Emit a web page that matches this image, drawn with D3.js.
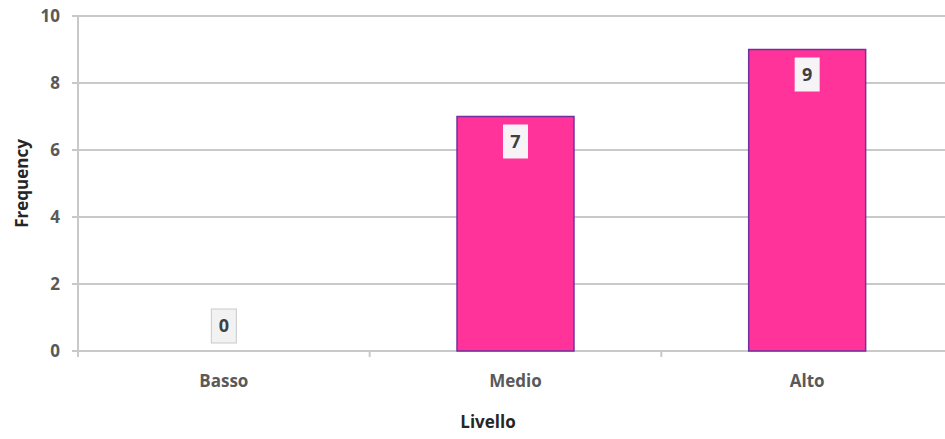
<!DOCTYPE html>
<html>
<head>
<meta charset="utf-8">
<script src="https://cdn.jsdelivr.net/npm/d3@7"></script>
<style>
  body { margin: 0; background: #fff; overflow: hidden; }
  svg { display: block; }
</style>
</head>
<body>
<svg id="chart" width="945" height="439"></svg>
<script>
// Frequency of each level
const categories = ["Basso", "Medio", "Alto"];
const frequencies = [0, 7, 9];
const yTicks = [0, 2, 4, 6, 8, 10];
const xTitle = "Livello";
const yTitle = "Frequency";

const width = 945, height = 439;
// the plot area runs slightly past the right edge of the view
const plotLeft = 78, plotRight = 953;
const plotTop = 16, plotBottom = 351;

const svg = d3.select("#chart");

const x = d3.scaleBand()
  .domain(categories)
  .range([plotLeft, plotRight])
  .paddingInner(0.599)
  .paddingOuter(0.2995);

const y = d3.scaleLinear()
  .domain([0, 10])
  .range([plotBottom, plotTop]);

const gridColor = "#c9c9c9";

// horizontal gridlines
svg.append("g")
  .selectAll("line")
  .data(yTicks)
  .join("line")
  .attr("x1", plotLeft - 6)
  .attr("x2", plotRight)
  .attr("y1", d => y(d))
  .attr("y2", d => y(d))
  .attr("stroke", gridColor)
  .attr("stroke-width", 2);

// vertical axis line
svg.append("line")
  .attr("x1", plotLeft).attr("x2", plotLeft)
  .attr("y1", y(10)).attr("y2", y(0) + 6)
  .attr("stroke", gridColor).attr("stroke-width", 2);

// category separators on the x axis
const sep = categories.slice(1).map(c => x(c) - x.step() * x.paddingInner() / 2);
svg.append("g")
  .selectAll("line")
  .data(sep)
  .join("line")
  .attr("x1", d => d).attr("x2", d => d)
  .attr("y1", y(0)).attr("y2", y(0) + 6)
  .attr("stroke", gridColor).attr("stroke-width", 2);

// y tick labels
svg.append("g")
  .selectAll("text")
  .data(yTicks)
  .join("text")
  .attr("x", 60)
  .attr("y", d => y(d))
  .attr("dy", "0.35em")
  .attr("text-anchor", "end")
  .attr("font-family", "Open Sans, sans-serif")
  .attr("font-weight", "bold")
  .attr("font-size", 17)
  .attr("fill", "#595959")
  .text(d => d);

// bars
svg.append("g")
  .selectAll("rect")
  .data(categories.map((c, i) => ({ c, v: frequencies[i] })))
  .join("rect")
  .attr("x", d => x(d.c))
  .attr("y", d => y(d.v))
  .attr("width", x.bandwidth())
  .attr("height", d => y(0) - y(d.v))
  .attr("fill", "#ff3399")
  .attr("stroke", "#7030a0")
  .attr("stroke-width", d => d.v > 0 ? 1.5 : 0);

// data labels
const boxW = 25, boxH = 34;
const labels = svg.append("g")
  .selectAll("g")
  .data(categories.map((c, i) => ({ c, v: frequencies[i] })))
  .join("g")
  .attr("transform", d => {
    const cx = x(d.c) + x.bandwidth() / 2;
    const top = d.v > 0 ? y(d.v) + 8 : y(0) - 8 - boxH;
    return `translate(${cx},${top})`;
  });

labels.append("rect")
  .attr("x", -boxW / 2)
  .attr("y", 0)
  .attr("width", boxW)
  .attr("height", boxH)
  .attr("fill", d => d.v > 0 ? "#f7f4f8" : "#f2f2f2")
  .attr("stroke", d => d.v > 0 ? "none" : "#c9c9c9")
  .attr("stroke-width", 1);

labels.append("text")
  .attr("x", 0)
  .attr("y", boxH / 2)
  .attr("dy", "0.36em")
  .attr("text-anchor", "middle")
  .attr("font-family", "Open Sans, sans-serif")
  .attr("font-weight", "bold")
  .attr("font-size", 18)
  .attr("fill", "#404040")
  .text(d => d.v);

// x category labels
svg.append("g")
  .selectAll("text")
  .data(categories)
  .join("text")
  .attr("x", d => x(d) + x.bandwidth() / 2)
  .attr("y", 381)
  .attr("dy", "0.35em")
  .attr("text-anchor", "middle")
  .attr("font-family", "Open Sans, sans-serif")
  .attr("font-weight", "bold")
  .attr("font-size", 17)
  .attr("fill", "#595959")
  .text(d => d);

// axis titles
svg.append("text")
  .attr("x", 488)
  .attr("y", 422)
  .attr("dy", "0.35em")
  .attr("text-anchor", "middle")
  .attr("font-family", "Open Sans, sans-serif")
  .attr("font-weight", "bold")
  .attr("font-size", 17)
  .attr("fill", "#262626")
  .text(xTitle);

svg.append("text")
  .attr("transform", `translate(22,${(y(0) + y(10)) / 2}) rotate(-90)`)
  .attr("dy", "0.35em")
  .attr("text-anchor", "middle")
  .attr("font-family", "Open Sans, sans-serif")
  .attr("font-weight", "bold")
  .attr("font-size", 17)
  .attr("fill", "#262626")
  .text(yTitle);
</script>
</body>
</html>
